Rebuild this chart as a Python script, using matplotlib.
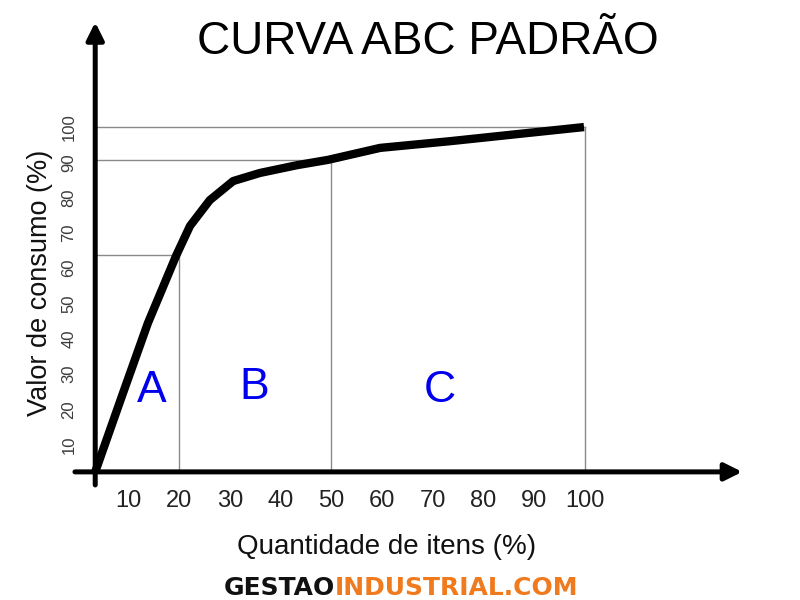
import matplotlib.pyplot as plt

# curve (items %, consumption %)
itens = [3.4, 8.6, 13.8, 19.4, 22.1, 26.0, 30.6, 35.9, 43.2, 49.3, 59.6, 73.4, 99.8]
consumo = [2.3, 23.5, 44.5, 63.7, 72.0, 79.3, 84.7, 87.0, 89.2, 90.7, 94.1, 96.0, 100.0]

x_ticks = [10, 20, 30, 40, 50, 60, 70, 80, 90, 100]
y_ticks = [10, 20, 30, 40, 50, 60, 70, 80, 90, 100]

# class limits (x, y)
limites = [(20, 63.7), (50, 90.7), (100, 100)]
classes = ["A", "B", "C"]
classes_x = [14.6, 34.7, 71.4]
classes_y = [25.5, 26.3, 25.5]

x0, y0 = 3.4, 2.3  # where the hand-drawn axes cross

fig = plt.figure(figsize=(8, 6), dpi=100)
ax = fig.add_axes([0, 0, 1, 1])
ax.set_xlim(-15.38, 142.4)
ax.set_ylim(-34.0, 136.0)
ax.axis("off")

font = "Liberation Sans"

# guide lines
for lx, ly in limites:
    ax.plot([x0, lx], [ly, ly], color="#8a8a8a", lw=1.0, zorder=1)
    ax.plot([lx, lx], [y0, ly], color="#8a8a8a", lw=1.0, zorder=1)

# axes with arrows
arrow = dict(arrowstyle="-|>", lw=3.6, color="black", mutation_scale=26,
             shrinkA=0, shrinkB=0)
ax.annotate("", xy=(x0, 129.7), xytext=(x0, -1.4), arrowprops=arrow, zorder=3)
ax.annotate("", xy=(131.0, y0), xytext=(-0.6, y0), arrowprops=arrow, zorder=3)

# the ABC curve
ax.plot(itens, consumo, color="black", lw=6, solid_capstyle="butt",
        solid_joinstyle="round", zorder=4)

for t in x_ticks:
    ax.text(t, -5.9, str(t), ha="center", va="center", fontsize=17,
            family=font, color="#222222")
for t in y_ticks:
    ax.text(-1.8, t, str(t), ha="center", va="center", fontsize=12,
            family=font, color="#3c3c3c", rotation=90)

for c, cx, cy in zip(classes, classes_x, classes_y):
    ax.text(cx, cy, c, ha="center", va="center", fontsize=32, family=font,
            color="#0000ee")

ax.text(69.0, 124.1, "CURVA ABC PADRÃO", ha="center", va="center",
        fontsize=33, family=font, color="black")
ax.text(60.9, -19.0, "Quantidade de itens (%)", ha="center", va="center",
        fontsize=20, family=font, color="#111111")
ax.text(-7.5, 55.8, "Valor de consumo (%)", ha="center", va="center",
        fontsize=19.5, family=font, color="#111111", rotation=90)

ax.text(50.7, -30.6, "GESTAO", ha="right", va="center", fontsize=18,
        family="DejaVu Sans", weight="heavy", color="#111111")
ax.text(50.7, -30.6, "INDUSTRIAL.COM", ha="left", va="center", fontsize=18,
        family="DejaVu Sans", weight="heavy", color="#f07a1e")

fig.savefig("out.png", dpi=100)
